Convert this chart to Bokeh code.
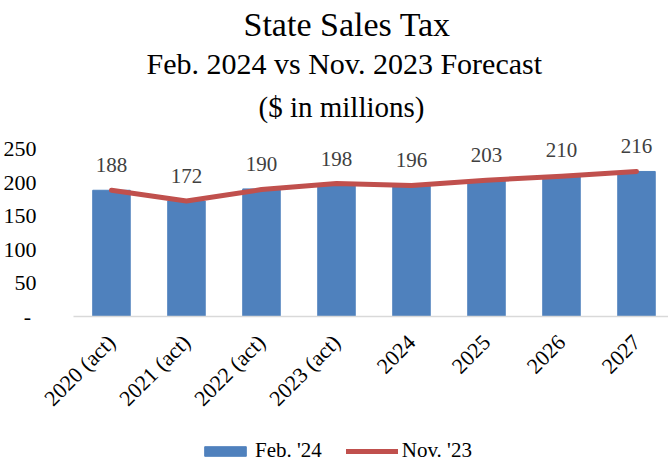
import math
from bokeh.plotting import figure
from bokeh.models import (Range1d, FixedTicker, Title, Legend, LegendItem,
                          ColumnDataSource)
from bokeh.core.properties import value
from bokeh.embed import file_html
from bokeh.resources import INLINE

# ---- data ----
categories = ["2020 (act)", "2021 (act)", "2022 (act)", "2023 (act)",
              "2024", "2025", "2026", "2027"]
feb24 = [188, 172, 190, 198, 196, 203, 210, 216]
nov23 = [188, 172, 189, 198, 195, 203, 209, 216]
y_ticks = [0, 50, 100, 150, 200, 250]
y_tick_labels = ["-\u00a0", "50", "100", "150", "200", "250"]

title_text = "State Sales Tax"
subtitle_text = "Feb. 2024 vs Nov. 2023 Forecast"
unit_text = "($ in millions)"

FONT = "Liberation Serif"
BLUE = "#4f81bd"
RED = "#c0504d"

xs = list(range(len(categories)))
src = ColumnDataSource(dict(x=xs, feb=feb24, nov=nov23,
                            lab=[str(v) for v in feb24]))

# the frame extends below zero so that the category labels and the legend
# sit inside the visible page; the x axis is pinned at y = 0
p = figure(frame_width=628, frame_height=337,
           x_range=Range1d(-0.933, 7.44), y_range=Range1d(-222, 280),
           output_backend="svg", toolbar_location=None,
           min_border_left=40, min_border_right=0,
           min_border_top=128, min_border_bottom=0)
p.xgrid.visible = False
p.ygrid.visible = False
p.outline_line_color = None

bars = p.vbar(x="x", top="feb", width=0.5, source=src,
              fill_color=BLUE, line_color=BLUE)
line = p.line(x="x", y="nov", source=src, line_width=5, line_color=RED,
              line_cap="round", line_join="round")
p.text(x="x", y="feb", text="lab", source=src,
       text_font=value(FONT), text_font_size="21px", text_color="#404040",
       text_align="center", text_baseline="middle", y_offset=-25)

# y axis
p.yaxis.ticker = FixedTicker(ticks=y_ticks)
p.yaxis.major_label_overrides = dict(zip(y_ticks, y_tick_labels))
p.yaxis.axis_line_color = None
p.yaxis.major_tick_line_color = None
p.yaxis.minor_tick_line_color = None
p.yaxis.major_tick_out = 0
p.yaxis.major_label_standoff = 5
p.yaxis.major_label_text_font = FONT
p.yaxis.major_label_text_font_size = "22px"
p.yaxis.major_label_text_color = "#000000"

# x axis
p.xaxis.fixed_location = 0
p.xaxis.bounds = (-0.5, 7.44)
p.xaxis.ticker = FixedTicker(ticks=xs)
p.xaxis.major_label_overrides = dict(zip(xs, categories))
p.xaxis.major_label_orientation = math.pi / 4
p.xaxis.axis_line_color = "#d9d9d9"
p.xaxis.axis_line_width = 1.5
p.xaxis.major_tick_line_color = None
p.xaxis.minor_tick_line_color = None
p.xaxis.major_tick_out = 0
p.xaxis.major_label_standoff = 22
p.xaxis.major_label_text_font = FONT
p.xaxis.major_label_text_font_size = "22px"
p.xaxis.major_label_text_color = "#000000"

# titles (added nearest-to-plot first), left-aligned with pixel offsets
for txt, size, sto, off in [(unit_text, "29px", 12, 217),
                            (subtitle_text, "30px", 5, 105),
                            (title_text, "34px", 0, 202)]:
    p.add_layout(Title(text=txt, align="left", text_font=FONT,
                       text_font_size=size, text_font_style="normal",
                       text_color="#000000", standoff=sto, offset=off),
                 "above")

legend = Legend(items=[LegendItem(label="Feb. '24", renderers=[bars]),
                       LegendItem(label="Nov. '23", renderers=[line])],
                orientation="horizontal", location=(158, 2),
                border_line_color=None, background_fill_alpha=0,
                padding=0, margin=0, spacing=24, glyph_width=52,
                glyph_height=12, label_standoff=4,
                label_text_font=FONT, label_text_font_size="21px",
                label_text_color="#000000")
p.add_layout(legend, "center")

open("out.html", "w").write(file_html(p, INLINE))
